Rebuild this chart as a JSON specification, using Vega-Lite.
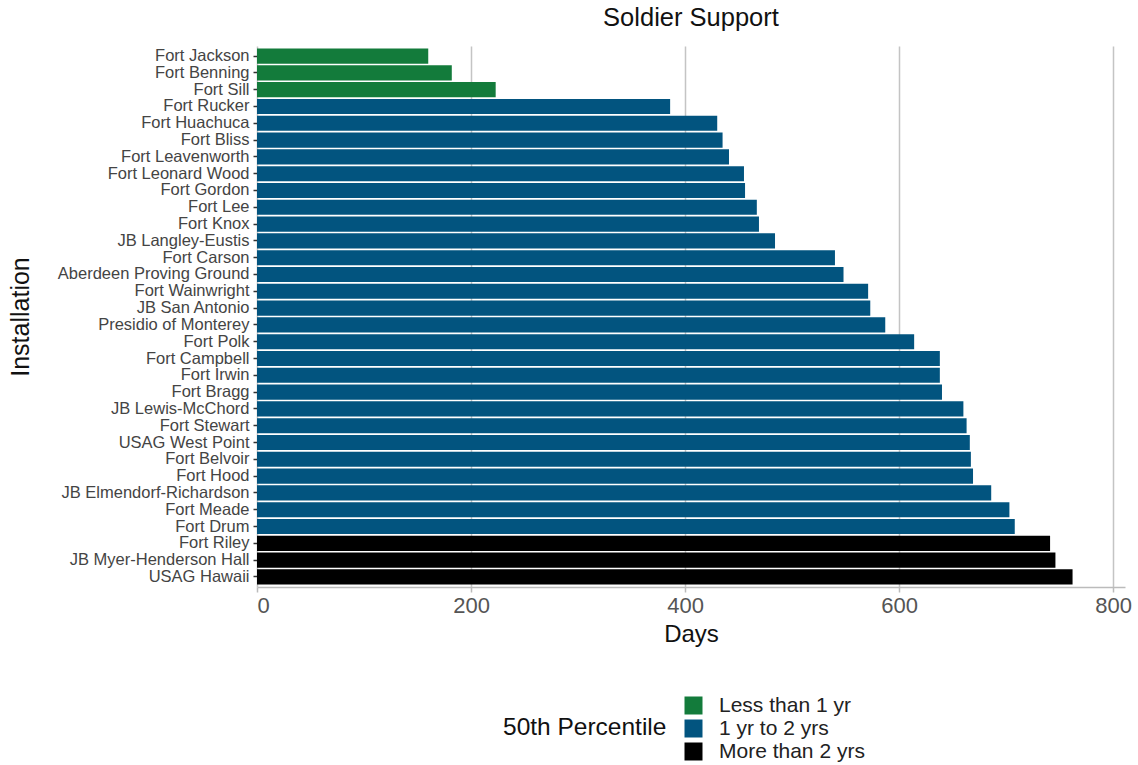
{
  "$schema": "https://vega.github.io/schema/vega-lite/v6.json",
  "width": 868,
  "height": 541,
  "padding": {"left": 8, "top": 5, "right": 5, "bottom": 0},
  "background": "white",
  "title": {"text": "Soldier Support", "fontSize": 25.5, "fontWeight": "normal", "font": "Liberation Sans", "color": "#111", "anchor": "middle", "frame": "group", "offset": 15},
  "data": {"values": [
    {"Installation": "Fort Jackson", "Days": 160, "Percentile": "Less than 1 yr"},
    {"Installation": "Fort Benning", "Days": 182, "Percentile": "Less than 1 yr"},
    {"Installation": "Fort Sill", "Days": 223, "Percentile": "Less than 1 yr"},
    {"Installation": "Fort Rucker", "Days": 386, "Percentile": "1 yr to 2 yrs"},
    {"Installation": "Fort Huachuca", "Days": 430, "Percentile": "1 yr to 2 yrs"},
    {"Installation": "Fort Bliss", "Days": 435, "Percentile": "1 yr to 2 yrs"},
    {"Installation": "Fort Leavenworth", "Days": 441, "Percentile": "1 yr to 2 yrs"},
    {"Installation": "Fort Leonard Wood", "Days": 455, "Percentile": "1 yr to 2 yrs"},
    {"Installation": "Fort Gordon", "Days": 456, "Percentile": "1 yr to 2 yrs"},
    {"Installation": "Fort Lee", "Days": 467, "Percentile": "1 yr to 2 yrs"},
    {"Installation": "Fort Knox", "Days": 469, "Percentile": "1 yr to 2 yrs"},
    {"Installation": "JB Langley-Eustis", "Days": 484, "Percentile": "1 yr to 2 yrs"},
    {"Installation": "Fort Carson", "Days": 540, "Percentile": "1 yr to 2 yrs"},
    {"Installation": "Aberdeen Proving Ground", "Days": 548, "Percentile": "1 yr to 2 yrs"},
    {"Installation": "Fort Wainwright", "Days": 571, "Percentile": "1 yr to 2 yrs"},
    {"Installation": "JB San Antonio", "Days": 573, "Percentile": "1 yr to 2 yrs"},
    {"Installation": "Presidio of Monterey", "Days": 587, "Percentile": "1 yr to 2 yrs"},
    {"Installation": "Fort Polk", "Days": 614, "Percentile": "1 yr to 2 yrs"},
    {"Installation": "Fort Campbell", "Days": 638, "Percentile": "1 yr to 2 yrs"},
    {"Installation": "Fort Irwin", "Days": 638, "Percentile": "1 yr to 2 yrs"},
    {"Installation": "Fort Bragg", "Days": 640, "Percentile": "1 yr to 2 yrs"},
    {"Installation": "JB Lewis-McChord", "Days": 660, "Percentile": "1 yr to 2 yrs"},
    {"Installation": "Fort Stewart", "Days": 663, "Percentile": "1 yr to 2 yrs"},
    {"Installation": "USAG West Point", "Days": 666, "Percentile": "1 yr to 2 yrs"},
    {"Installation": "Fort Belvoir", "Days": 667, "Percentile": "1 yr to 2 yrs"},
    {"Installation": "Fort Hood", "Days": 669, "Percentile": "1 yr to 2 yrs"},
    {"Installation": "JB Elmendorf-Richardson", "Days": 686, "Percentile": "1 yr to 2 yrs"},
    {"Installation": "Fort Meade", "Days": 703, "Percentile": "1 yr to 2 yrs"},
    {"Installation": "Fort Drum", "Days": 708, "Percentile": "1 yr to 2 yrs"},
    {"Installation": "Fort Riley", "Days": 741, "Percentile": "More than 2 yrs"},
    {"Installation": "JB Myer-Henderson Hall", "Days": 746, "Percentile": "More than 2 yrs"},
    {"Installation": "USAG Hawaii", "Days": 762, "Percentile": "More than 2 yrs"}
  ]},
  "mark": {"type": "bar"},
  "encoding": {
    "y": {
      "field": "Installation", "type": "nominal", "sort": null,
      "scale": {"paddingInner": 0.1, "paddingOuter": 0.15},
      "axis": {"title": "Installation", "titleFontSize": 25, "titleFontWeight": "normal", "titleFont": "Liberation Sans", "titleColor": "#111", "titlePadding": 24,
        "labelFontSize": 16.5, "labelFont": "Liberation Sans", "labelColor": "#444", "labelPadding": 4, "labelLimit": 400,
        "domain": false, "ticks": true, "tickColor": "#333", "tickSize": 4, "tickWidth": 1.5, "grid": false}
    },
    "x": {
      "field": "Days", "type": "quantitative",
      "scale": {"domain": [0, 811], "nice": false},
      "axis": {"title": "Days", "titleFontSize": 24, "titleFontWeight": "normal", "titleFont": "Liberation Sans", "titleColor": "#111", "titlePadding": 6,
        "values": [0, 200, 400, 600, 800], "labelFontSize": 22, "labelFont": "Liberation Sans", "labelColor": "#555", "labelPadding": 3,
        "domain": true, "domainColor": "#bbb", "domainWidth": 1.5, "tickColor": "#bbb", "tickWidth": 1.5, "tickSize": 5,
        "grid": true, "gridColor": "#c4c4c4", "gridWidth": 1.5}
    },
    "color": {
      "field": "Percentile", "type": "nominal",
      "scale": {"domain": ["Less than 1 yr", "1 yr to 2 yrs", "More than 2 yrs"], "range": ["#137b3b", "#02547f", "#000000"]},
      "legend": {"title": "50th Percentile", "orient": "none", "legendX": 246, "legendY": 649, "direction": "vertical", "titleOrient": "left", "titleAnchor": "middle", "titleBaseline": "middle",
        "titleFontSize": 24.5, "titleFont": "Liberation Sans", "titleFontWeight": "normal", "titleColor": "#111", "titlePadding": 16,
        "labelFontSize": 21, "labelFont": "Liberation Sans", "labelColor": "#222", "labelOffset": 15, "labelLimit": 400, "symbolType": "square", "symbolSize": 324, "symbolStrokeWidth": 0,
        "rowPadding": 1}
    }
  },
  "config": {"view": {"stroke": null}}
}
